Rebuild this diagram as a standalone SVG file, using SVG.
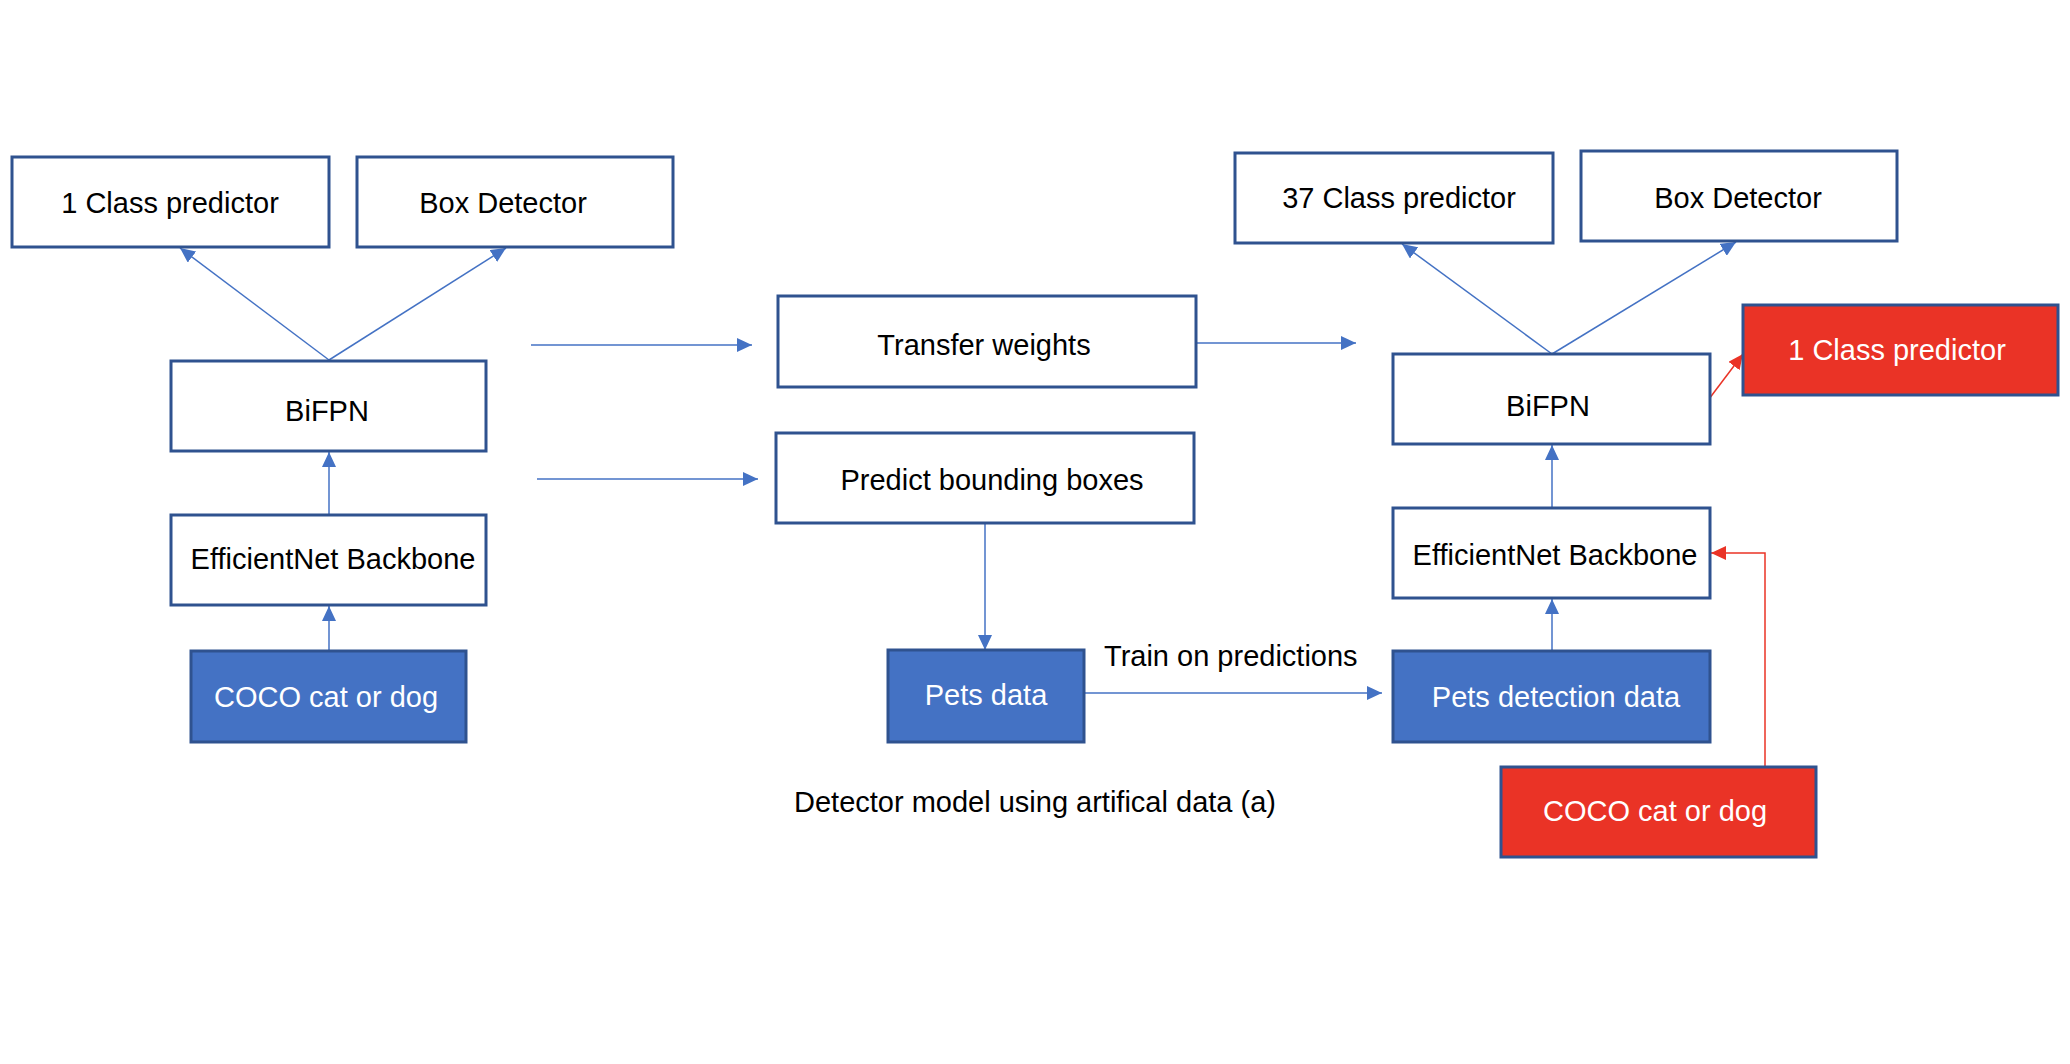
<svg xmlns="http://www.w3.org/2000/svg" width="2070" height="1064" viewBox="0 0 2070 1064">
<style>
.box{fill:#FFFFFF;stroke:#2F528F;stroke-width:3}
.blue{fill:#4472C4;stroke:#2F528F;stroke-width:3}
.red{fill:#EA3326;stroke:#2F528F;stroke-width:3}
.t{font-family:"Liberation Sans",Arial,sans-serif;font-size:29px;fill:#000000}
.w{fill:#FFFFFF}
.m{text-anchor:middle}
.c{fill:none;stroke:#4472C4;stroke-width:1.5}
.cr{fill:none;stroke:#EA3326;stroke-width:1.5}
</style>
<defs>
<marker id="ab" markerUnits="userSpaceOnUse" markerWidth="16" markerHeight="14" refX="15" refY="7" orient="auto"><path d="M0,0 L15,7 L0,14 z" fill="#4472C4"/></marker>
<marker id="ar" markerUnits="userSpaceOnUse" markerWidth="16" markerHeight="14" refX="15" refY="7" orient="auto"><path d="M0,0 L15,7 L0,14 z" fill="#EA3326"/></marker>
</defs>
<rect width="2070" height="1064" fill="#FFFFFF"/>
<g id="connectors">
<path class="c" d="M329,360 L180,248" marker-end="url(#ab)"/>
<path class="c" d="M329,360 L506,248" marker-end="url(#ab)"/>
<path class="c" d="M329,515 L329,452" marker-end="url(#ab)"/>
<path class="c" d="M329,650 L329,606" marker-end="url(#ab)"/>
<path class="c" d="M531,345 L752,345" marker-end="url(#ab)"/>
<path class="c" d="M537,479 L758,479" marker-end="url(#ab)"/>
<path class="c" d="M1196,343 L1356,343" marker-end="url(#ab)"/>
<path class="c" d="M985,523 L985,650" marker-end="url(#ab)"/>
<path class="c" d="M1084,693 L1382,693" marker-end="url(#ab)"/>
<path class="c" d="M1552,354 L1402,244" marker-end="url(#ab)"/>
<path class="c" d="M1552,354 L1736,242" marker-end="url(#ab)"/>
<path class="c" d="M1552,508 L1552,445" marker-end="url(#ab)"/>
<path class="c" d="M1552,651 L1552,599" marker-end="url(#ab)"/>
<path class="cr" d="M1709,399 L1743,354" marker-end="url(#ar)"/>
<path class="cr" d="M1765,767 L1765,553 L1711,553" marker-end="url(#ar)"/>
</g>
<g id="left-class-predictor"><rect class="box" x="12" y="157" width="317" height="90"/><text class="t m" x="170" y="213">1 Class predictor</text></g>
<g id="left-box-detector"><rect class="box" x="357" y="157" width="316" height="90"/><text class="t m" x="503" y="213">Box Detector</text></g>
<g id="left-bifpn"><rect class="box" x="171" y="361" width="315" height="90"/><text class="t m" x="327" y="421">BiFPN</text></g>
<g id="left-backbone"><rect class="box" x="171" y="515" width="315" height="90"/><text class="t m" x="333" y="569">EfficientNet Backbone</text></g>
<g id="left-coco"><rect class="blue" x="191" y="651" width="275" height="91"/><text class="t w m" x="326" y="707">COCO cat or dog</text></g>
<g id="transfer-weights"><rect class="box" x="778" y="296" width="418" height="91"/><text class="t m" x="984" y="355">Transfer weights</text></g>
<g id="predict-boxes"><rect class="box" x="776" y="433" width="418" height="90"/><text class="t m" x="992" y="490">Predict bounding boxes</text></g>
<g id="pets-data"><rect class="blue" x="888" y="650" width="196" height="92"/><text class="t w m" x="986" y="705">Pets data</text></g>
<g id="train-label"><text class="t" x="1104" y="666">Train on predictions</text></g>
<g id="caption"><text class="t" x="794" y="812">Detector model using artifical data (a)</text></g>
<g id="right-37-class"><rect class="box" x="1235" y="153" width="318" height="90"/><text class="t m" x="1399" y="208">37 Class predictor</text></g>
<g id="right-box-detector"><rect class="box" x="1581" y="151" width="316" height="90"/><text class="t m" x="1738" y="208">Box Detector</text></g>
<g id="right-bifpn"><rect class="box" x="1393" y="354" width="317" height="90"/><text class="t m" x="1548" y="416">BiFPN</text></g>
<g id="right-1-class"><rect class="red" x="1743" y="305" width="315" height="90"/><text class="t w m" x="1897" y="360">1 Class predictor</text></g>
<g id="right-backbone"><rect class="box" x="1393" y="508" width="317" height="90"/><text class="t m" x="1555" y="565">EfficientNet Backbone</text></g>
<g id="pets-detection"><rect class="blue" x="1393" y="651" width="317" height="91"/><text class="t w m" x="1556" y="707">Pets detection data</text></g>
<g id="right-coco"><rect class="red" x="1501" y="767" width="315" height="90"/><text class="t w m" x="1655" y="821">COCO cat or dog</text></g>
</svg>
